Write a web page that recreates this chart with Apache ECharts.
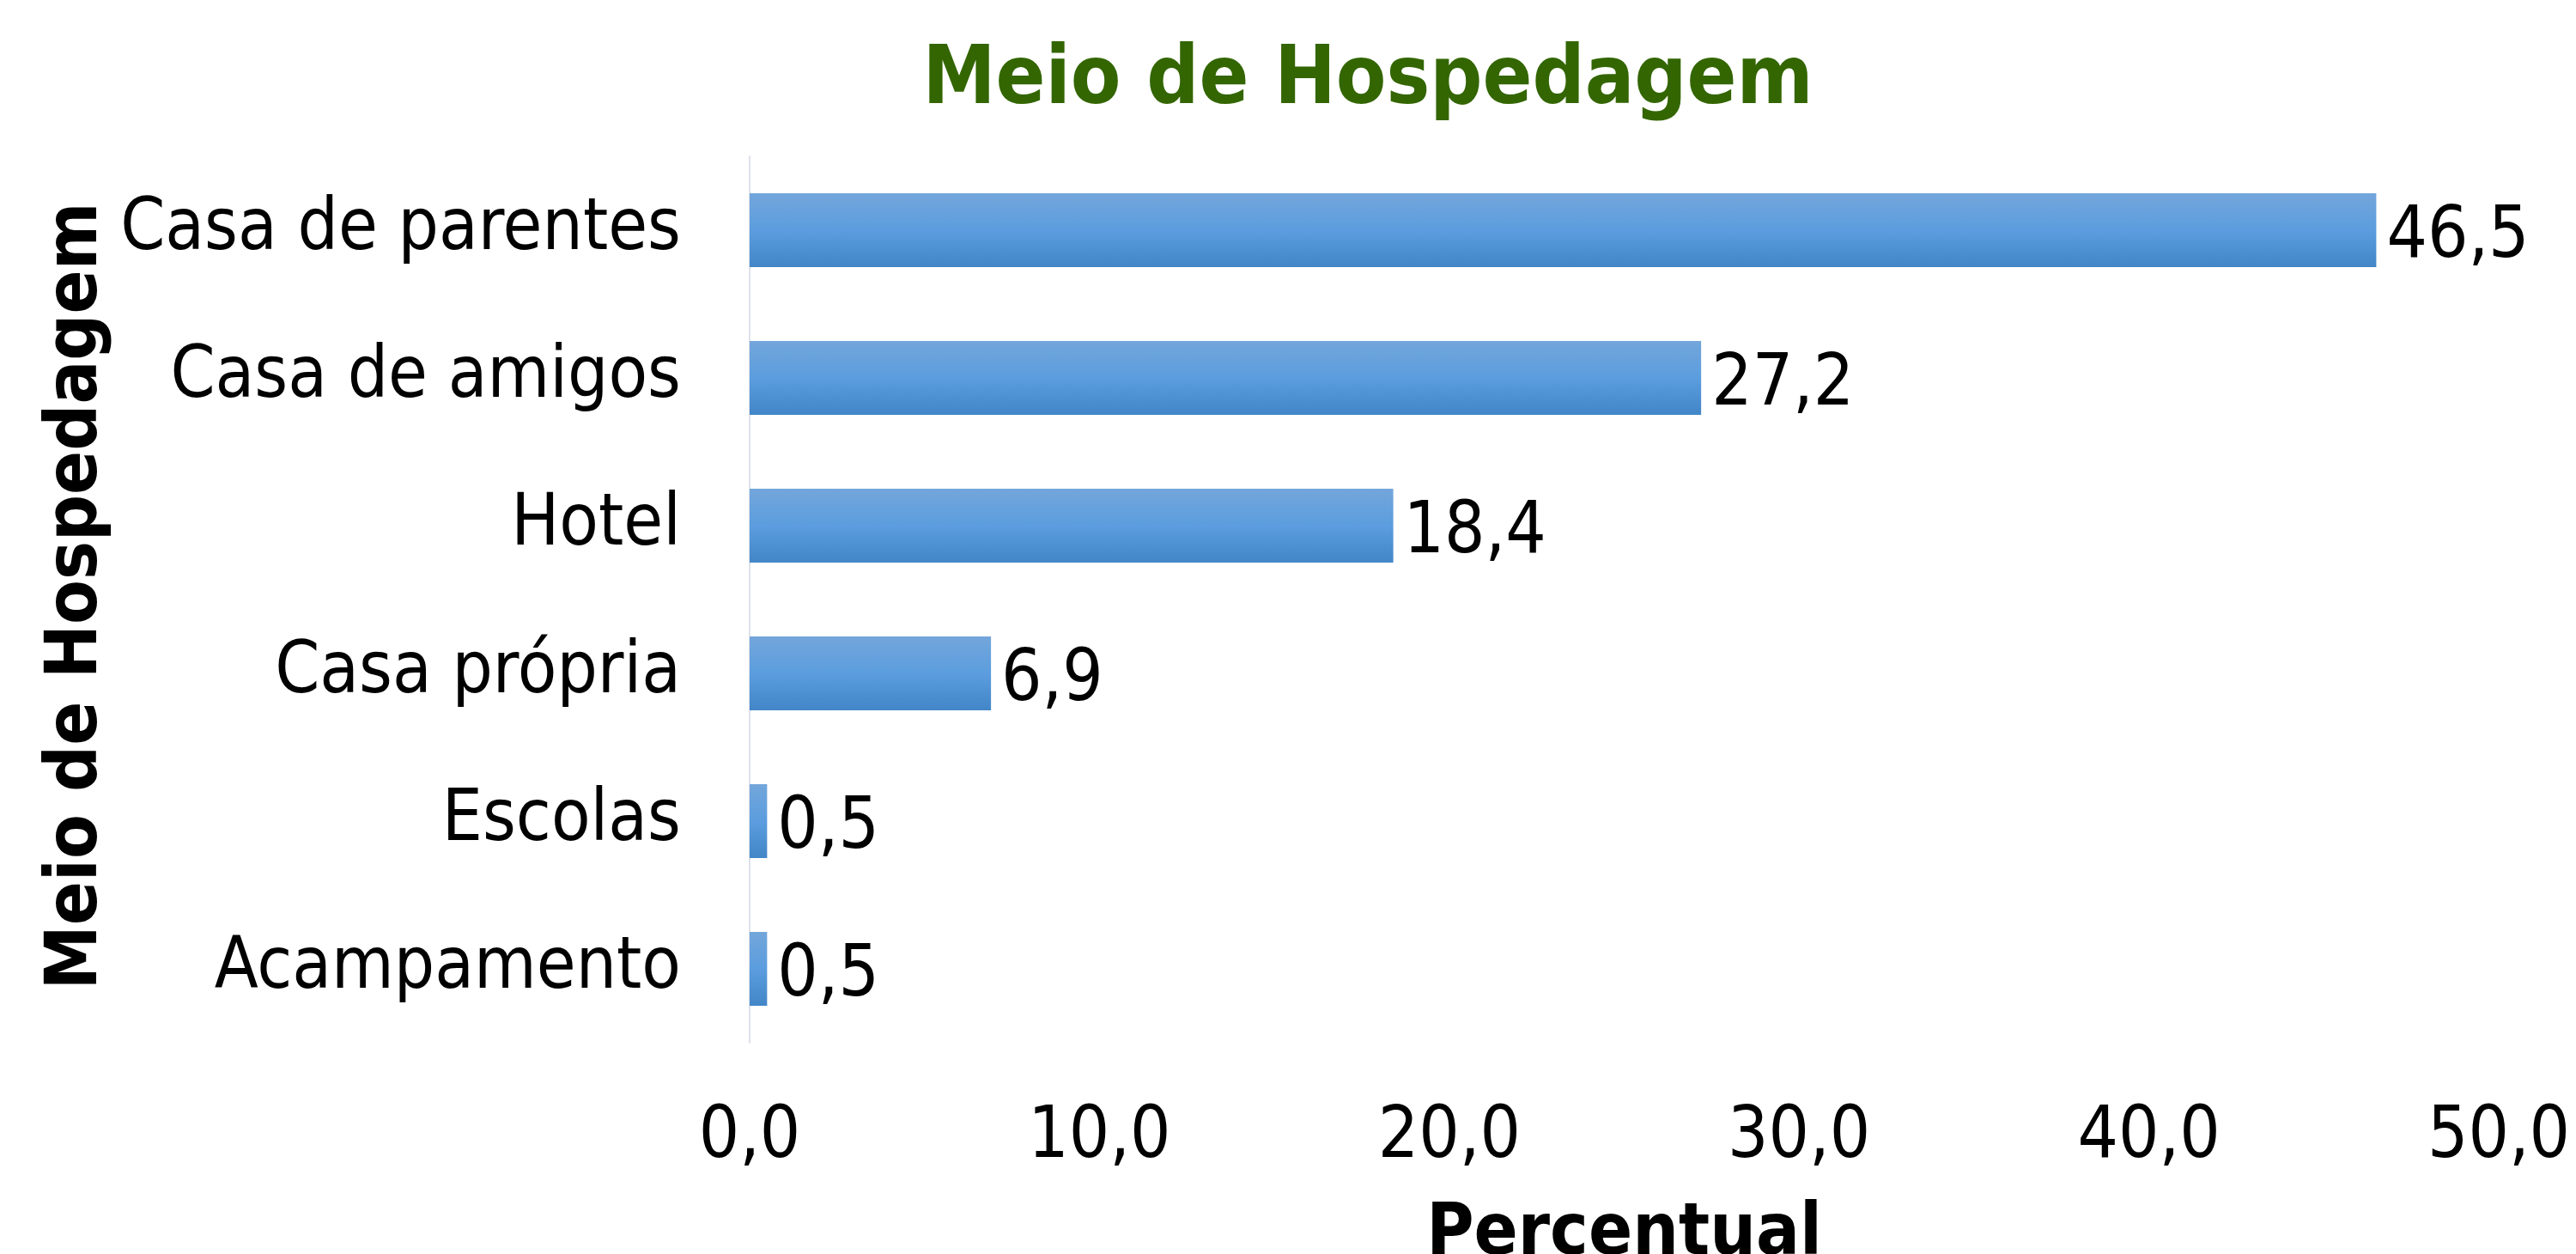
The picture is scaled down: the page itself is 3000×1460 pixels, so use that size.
<!DOCTYPE html>
<html>
<head>
<meta charset="utf-8">
<script src="https://cdn.jsdelivr.net/npm/echarts@6/dist/echarts.min.js"></script>
<style>
html,body{margin:0;padding:0;background:#fff;}
#chart{width:3000px;height:1460px;}
</style>
</head>
<body>
<div id="chart"></div>
<script>
const categories = ['Casa de parentes', 'Casa de amigos', 'Hotel', 'Casa própria', 'Escolas', 'Acampamento'];
const values = [46.5, 27.2, 18.4, 6.9, 0.5, 0.5];
const xTicks = [0, 10, 20, 30, 40, 50];
const titleText = 'Meio de Hospedagem';
const yAxisTitle = 'Meio de Hospedagem';
const xAxisTitle = 'Percentual';

const FONT = '"DejaVu Sans Condensed", "DejaVu Sans", sans-serif';
const fmt = v => Number(v).toFixed(1).replace('.', ',');

const chart = echarts.init(document.getElementById('chart'), null, {renderer: 'canvas'});
chart.setOption({
  backgroundColor: '#ffffff',
  animation: false,
  grid: {left: 873, right: 90, top: 182, bottom: 246, containLabel: false, outerBoundsMode: 'none'},
  graphic: [
    {type: 'text', x: 1593, y: 95, style: {text: titleText, fill: '#336600', font: 'bold 95px ' + FONT, textAlign: 'center', textVerticalAlign: 'middle'}},
    {type: 'text', x: 90, y: 694, rotation: Math.PI / 2, style: {text: yAxisTitle, fill: '#000000', font: 'bold 84px ' + FONT, textAlign: 'center', textVerticalAlign: 'middle'}}
  ],
  xAxis: {
    type: 'value',
    min: xTicks[0],
    max: xTicks[xTicks.length - 1],
    interval: xTicks[1] - xTicks[0],
    axisLine: {show: false},
    axisTick: {show: false},
    splitLine: {show: false},
    axisLabel: {formatter: v => fmt(v), fontFamily: FONT, fontSize: 83, color: '#000', margin: 70},
    name: xAxisTitle,
    nameLocation: 'middle',
    nameGap: 182,
    nameTextStyle: {fontFamily: FONT, fontWeight: 'bold', fontSize: 84, color: '#000'}
  },
  yAxis: {
    type: 'category',
    data: categories,
    inverse: true,
    axisLine: {show: true, lineStyle: {color: '#DDE1EA', width: 2}},
    axisTick: {show: false},
    splitLine: {show: false},
    axisLabel: {fontFamily: FONT, fontSize: 83, color: '#000', margin: 80}
  },
  series: [{
    type: 'bar',
    data: values,
    barCategoryGap: '50%',
    itemStyle: {
      color: new echarts.graphic.LinearGradient(0, 0, 0, 1, [
        {offset: 0, color: '#73A6DB'},
        {offset: 0.5, color: '#5B9DDE'},
        {offset: 1, color: '#4286C7'}
      ])
    },
    label: {
      show: true,
      position: 'right',
      distance: 12,
      offset: [0, 9],
      formatter: p => fmt(p.value),
      fontFamily: FONT,
      fontSize: 83,
      color: '#000'
    }
  }]
});
</script>
</body>
</html>
